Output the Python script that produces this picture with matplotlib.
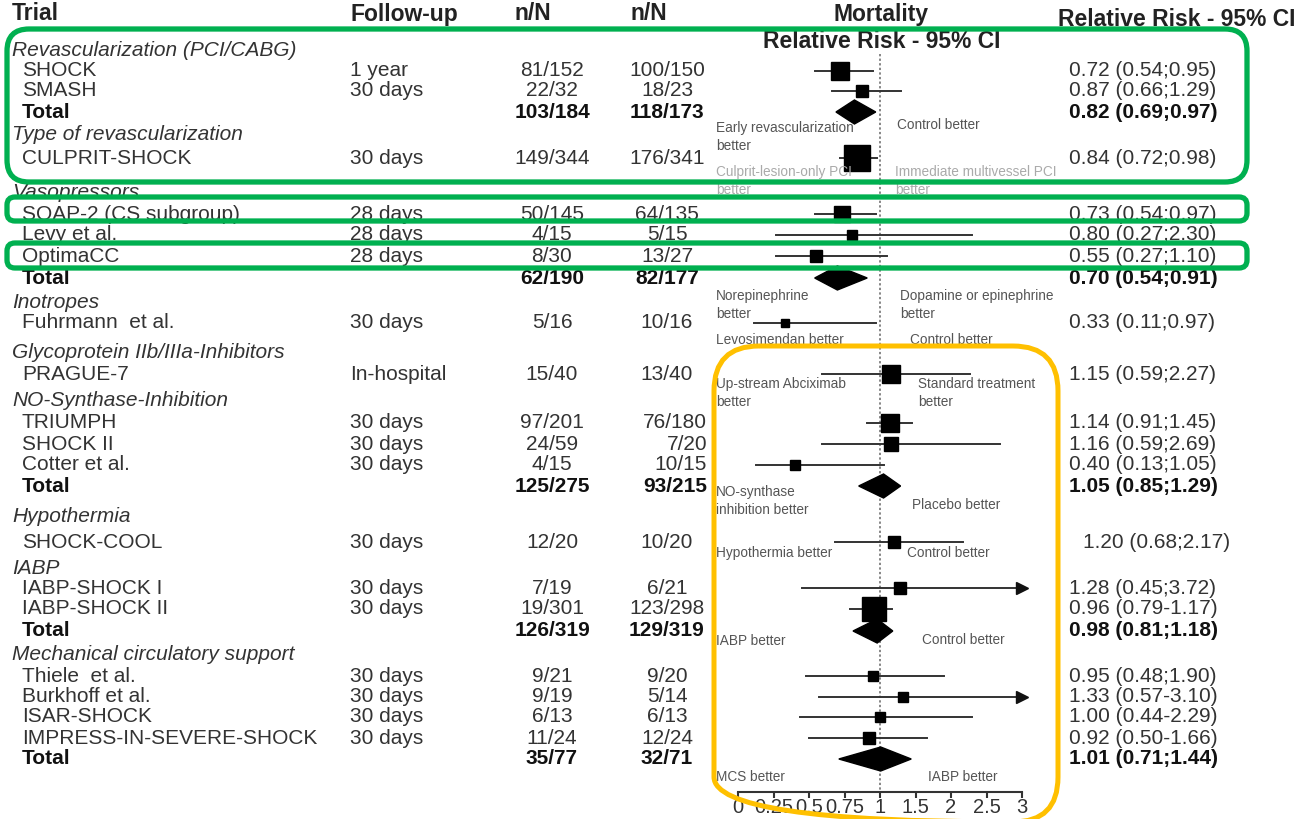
import numpy as np
import matplotlib
matplotlib.use("Agg")
import matplotlib.pyplot as plt
from matplotlib.patches import FancyBboxPatch, Polygon

plt.rcParams['font.family'] = ['Liberation Sans', 'DejaVu Sans']

# rows of the forest plot, top to bottom (group headers have no numbers)
row_label = ["Revascularization (PCI/CABG)", "SHOCK", "SMASH", "Total",
             "Type of revascularization", "CULPRIT-SHOCK",
             "Vasopressors", "SOAP-2 (CS subgroup)", "Levy et al.", "OptimaCC", "Total",
             "Inotropes", "Fuhrmann  et al.",
             "Glycoprotein IIb/IIIa-Inhibitors", "PRAGUE-7",
             "NO-Synthase-Inhibition", "TRIUMPH", "SHOCK II", "Cotter et al.", "Total",
             "Hypothermia", "SHOCK-COOL",
             "IABP", "IABP-SHOCK I", "IABP-SHOCK II", "Total",
             "Mechanical circulatory support", "Thiele  et al.", "Burkhoff et al.",
             "ISAR-SHOCK", "IMPRESS-IN-SEVERE-SHOCK", "Total"]
row_kind = ["group", "trial", "trial", "total",
            "group", "trial",
            "group", "trial", "trial", "trial", "total",
            "group", "trial",
            "group", "trial",
            "group", "trial", "trial", "trial", "total",
            "group", "trial",
            "group", "trial", "trial", "total",
            "group", "trial", "trial", "trial", "trial", "total"]
follow_up = ["", "1 year", "30 days", "",
             "", "30 days",
             "", "28 days", "28 days", "28 days", "",
             "", "30 days",
             "", "In-hospital",
             "", "30 days", "30 days", "30 days", "",
             "", "30 days",
             "", "30 days", "30 days", "",
             "", "30 days", "30 days", "30 days", "30 days", ""]
n_treat = ["", "81/152", "22/32", "103/184",
           "", "149/344",
           "", "50/145", "4/15", "8/30", "62/190",
           "", "5/16",
           "", "15/40",
           "", "97/201", "24/59", "4/15", "125/275",
           "", "12/20",
           "", "7/19", "19/301", "126/319",
           "", "9/21", "9/19", "6/13", "11/24", "35/77"]
n_ctrl = ["", "100/150", "18/23", "118/173",
          "", "176/341",
          "", "64/135", "5/15", "13/27", "82/177",
          "", "10/16",
          "", "13/40",
          "", "76/180", "7/20", "10/15", "93/215",
          "", "10/20",
          "", "6/21", "123/298", "129/319",
          "", "9/20", "5/14", "6/13", "12/24", "32/71"]
rr = [None, 0.72, 0.87, 0.82,
      None, 0.84,
      None, 0.73, 0.80, 0.55, 0.70,
      None, 0.33,
      None, 1.15,
      None, 1.14, 1.16, 0.40, 1.05,
      None, 1.20,
      None, 1.28, 0.96, 0.98,
      None, 0.95, 1.33, 1.00, 0.92, 1.01]
ci_lo = [None, 0.54, 0.66, 0.69,
         None, 0.72,
         None, 0.54, 0.27, 0.27, 0.54,
         None, 0.11,
         None, 0.59,
         None, 0.91, 0.59, 0.13, 0.85,
         None, 0.68,
         None, 0.45, 0.79, 0.81,
         None, 0.48, 0.57, 0.44, 0.50, 0.71]
ci_hi = [None, 0.95, 1.29, 0.97,
         None, 0.98,
         None, 0.97, 2.30, 1.10, 0.91,
         None, 0.97,
         None, 2.27,
         None, 1.45, 2.69, 1.05, 1.29,
         None, 2.17,
         None, 3.72, 1.17, 1.18,
         None, 1.90, 3.10, 2.29, 1.66, 1.44]
rr_text = ["", "0.72 (0.54;0.95)", "0.87 (0.66;1.29)", "0.82 (0.69;0.97)",
           "", "0.84 (0.72;0.98)",
           "", "0.73 (0.54;0.97)", "0.80 (0.27;2.30)", "0.55 (0.27;1.10)", "0.70 (0.54;0.91)",
           "", "0.33 (0.11;0.97)",
           "", "1.15 (0.59;2.27)",
           "", "1.14 (0.91;1.45)", "1.16 (0.59;2.69)", "0.40 (0.13;1.05)", "1.05 (0.85;1.29)",
           "", "1.20 (0.68;2.17)",
           "", "1.28 (0.45;3.72)", "0.96 (0.79-1.17)", "0.98 (0.81;1.18)",
           "", "0.95 (0.48;1.90)", "1.33 (0.57-3.10)", "1.00 (0.44-2.29)", "0.92 (0.50-1.66)",
           "1.01 (0.71;1.44)"]
# study weights (relative)
weight = [0, 32, 14, 0,
          0, 68,
          0, 26, 8, 14, 0,
          0, 6,
          0, 32,
          0, 32, 17, 10, 0,
          0, 12,
          0, 14, 58, 0,
          0, 8, 10, 8, 14, 0]

better_left = ["Early revascularization\nbetter", "Culprit-lesion-only PCI\nbetter",
               "Norepinephrine\nbetter", "Levosimendan better", "Up-stream Abciximab\nbetter",
               "NO-synthase\ninhibition better", "Hypothermia better", "IABP better", "MCS better"]
better_right = ["Control better", "Immediate multivessel PCI\nbetter",
                "Dopamine or epinephrine\nbetter", "Control better", "Standard treatment\nbetter",
                "Placebo better", "Control better", "Control better", "IABP better"]

tick_vals = [0, 0.25, 0.5, 0.75, 1, 1.5, 2, 2.5, 3]
tick_labels = ["0", "0.25", "0.5", "0.75", "1", "1.5", "2", "2.5", "3"]

# ---- layout (pixels from top-left of the 1297x819 canvas) ----
W, H = 1297, 819
row_y = [50, 71, 91, 112, 134, 158, 192, 214, 235, 256, 278, 303, 323, 353, 374,
         401, 423, 444, 465, 486, 516, 542, 568, 588, 609, 631, 654, 676, 697, 717, 738, 759]
left_y = [137, 181, 305, 340, 393, 501, 553, 641, 777]
right_y = [125, 181, 305, 340, 393, 505, 553, 640, 777]
right_x = [897, 895, 900, 910, 918, 912, 907, 922, 928]
FS = 15

fig = plt.figure(figsize=(W / 100, H / 100), dpi=100)

# forest panel: x from 738 px (0) to 1022 px (3); y in canvas pixels
ax = fig.add_axes([738 / W, 1 - 792 / H, (1022 - 738) / W, (792 - 40) / H])
ax.patch.set_alpha(0)


def fwd(x):
    x = np.asarray(x, float)
    return np.where(x <= 1, 4 * x, 4 + 2 * (x - 1))


def inv(u):
    u = np.asarray(u, float)
    return np.where(u <= 4, u / 4, 1 + (u - 4) / 2)


ax.set_xscale('function', functions=(fwd, inv))
ax.set_xlim(0, 3)
ax.set_ylim(792, 40)
for s in ['left', 'right', 'top']:
    ax.spines[s].set_visible(False)
ax.spines['bottom'].set_linewidth(1.5)
ax.spines['bottom'].set_color('#333')
ax.set_yticks([])
ax.set_xticks(tick_vals)
ax.set_xticklabels(tick_labels)
ax.tick_params(axis='x', direction='out', length=4.5, width=1.5, color='#333',
               labelsize=14.5, labelcolor='#333', pad=0)
ax.plot([1, 1], [54, 790], ls=(0, (1.5, 1.5)), color='#666', lw=1.1, zorder=1)

for i, kind in enumerate(row_kind):
    if kind == 'group':
        continue
    y = row_y[i]
    if kind == 'total':
        d = Polygon([(ci_lo[i], y), (rr[i], y - 12), (ci_hi[i], y), (rr[i], y + 12)],
                    closed=True, color='black', zorder=3)
        ax.add_patch(d)
        continue
    hi = min(ci_hi[i], 3)
    ax.plot([ci_lo[i], hi], [y, y], color='#333', lw=1.4, zorder=2, clip_on=False)
    if ci_hi[i] > 3:
        ax.plot(3, y, marker='>', ms=9, color='#111', clip_on=False, zorder=2)
    side = 3.2 * np.sqrt(weight[i])
    ax.plot(rr[i], y, marker='s', ms=side * 0.72, color='black', mec='black',
            zorder=3, clip_on=False)

# overlay for the table texts and highlight boxes
ov = fig.add_axes([0, 0, 1, 1], zorder=3)
ov.set_xlim(0, W)
ov.set_ylim(H, 0)
ov.axis('off')
ov.patch.set_alpha(0)

hdr = dict(fontsize=16.5, fontweight='bold', color='#222', va='center')
ov.text(12, 14, "Trial", **hdr)
ov.text(350, 14, "Follow-up", **hdr)
ov.text(515, 14, "n/N", **hdr)
ov.text(630, 14, "n/N", **hdr)
ov.text(881, 14, "Mortality", ha='center', **hdr)
ov.text(1058, 19, "Relative Risk - 95% CI", **hdr)
ov.text(882, 41, "Relative Risk - 95% CI", ha='center', **hdr)

group = ""
for i, kind in enumerate(row_kind):
    y = row_y[i]
    if kind == 'group':
        group = row_label[i]
        ov.text(12, y, row_label[i], fontsize=FS, style='italic', color='#333', va='center')
        continue
    fw = 'bold' if kind == 'total' else 'normal'
    col = '#111' if kind == 'total' else '#333'
    ov.text(22, y, row_label[i], fontsize=FS, fontweight=fw, color=col, va='center')
    ov.text(350, y, follow_up[i], fontsize=FS, color=col, va='center')
    ov.text(552, y, n_treat[i], fontsize=FS, fontweight=fw, color=col, va='center', ha='center')
    if group == "NO-Synthase-Inhibition":
        ov.text(707, y, n_ctrl[i], fontsize=FS, fontweight=fw, color=col, va='center', ha='right')
    else:
        ov.text(667, y, n_ctrl[i], fontsize=FS, fontweight=fw, color=col, va='center', ha='center')
    rx = 1083 if group == "Hypothermia" else 1069
    ov.text(rx, y, rr_text[i], fontsize=FS, fontweight=fw, color=col, va='center')

for i in range(len(better_left)):
    # the culprit-lesion pair is faint in the source
    gc = '#aaa' if i == 1 else '#555'
    ov.text(716, left_y[i], better_left[i], fontsize=9.8, color=gc, va='center',
            linespacing=1.3)
    ov.text(right_x[i], right_y[i], better_right[i], fontsize=9.8, color=gc, va='center',
            linespacing=1.3)

green = '#00b050'
for (x0, y0, x1, y1, r) in [(7, 29, 1247, 182, 22), (7, 197, 1247, 221, 8), (7, 243, 1247, 268, 8)]:
    ov.add_patch(FancyBboxPatch((x0, y0), x1 - x0, y1 - y0,
                                boxstyle="round,pad=0,rounding_size=%d" % r,
                                fill=False, ec=green, lw=3.8, zorder=5))
ov.add_patch(FancyBboxPatch((714, 346), 1058 - 714, 822 - 346,
                            boxstyle="round,pad=0,rounding_size=45",
                            fill=False, ec='#ffc000', lw=3.6, zorder=5))

fig.savefig("out.png", dpi=100, facecolor='white')
